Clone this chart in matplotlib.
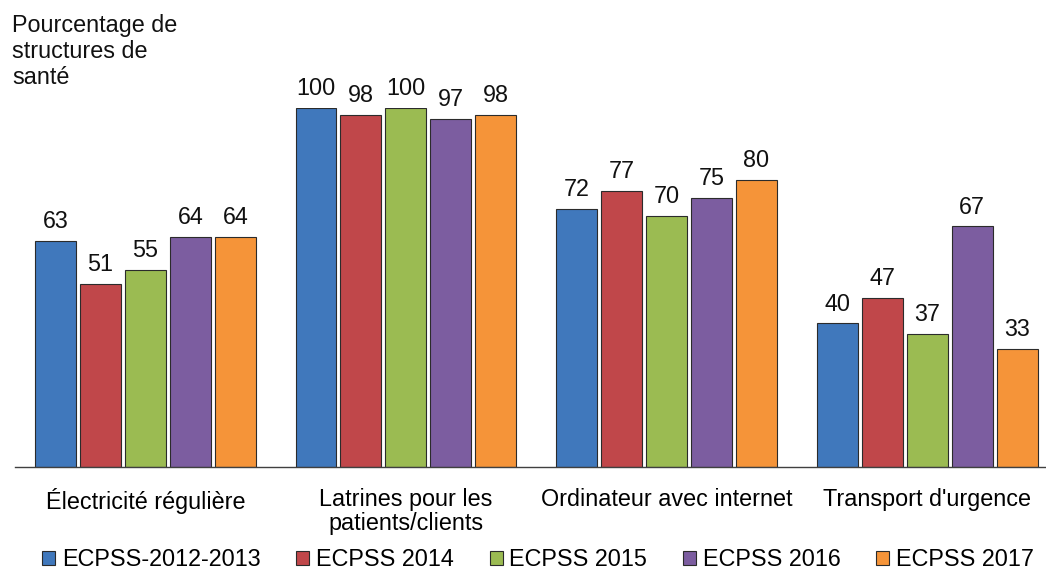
import numpy as np
import matplotlib
matplotlib.use("Agg")
import matplotlib.pyplot as plt

plt.rcParams['font.family'] = ['Liberation Sans', 'DejaVu Sans']

categories = ["Électricité régulière", "Latrines pour les\npatients/clients",
              "Ordinateur avec internet", "Transport d'urgence"]
series_names = ["ECPSS-2012-2013", "ECPSS 2014", "ECPSS 2015", "ECPSS 2016", "ECPSS 2017"]
ecpss_2012_2013 = [63, 100, 72, 40]
ecpss_2014 = [51, 98, 77, 47]
ecpss_2015 = [55, 100, 70, 37]
ecpss_2016 = [64, 97, 75, 67]
ecpss_2017 = [64, 98, 80, 33]
colors = ["#4078BC", "#C0474A", "#9BBB52", "#7C5DA0", "#F59439"]

all_series = [ecpss_2012_2013, ecpss_2014, ecpss_2015, ecpss_2016, ecpss_2017]

fig = plt.figure(figsize=(10.46, 5.72), dpi=100)
ax = fig.add_axes([15 / 1046, 1 - 467 / 572, 1031 / 1046, (467 - 108) / 572])

x = np.arange(len(categories))
step = 0.1726
width = 0.157
fs = 16.8

for i, (name, vals, col) in enumerate(zip(series_names, all_series, colors)):
    pos = x + (i - 2) * step
    bars = ax.bar(pos, vals, width, color=col, edgecolor="#2b2b2b", linewidth=0.8, label=name)
    for b, v in zip(bars, vals):
        ax.text(b.get_x() + b.get_width() / 2, v + 2.2, str(v), ha="center", va="bottom",
                fontsize=fs, color="#111111")

ax.set_xlim(-0.5, 3.456)
ax.set_ylim(0, 100)
ax.set_xticks(x)
ax.set_xticklabels(categories, fontsize=fs, linespacing=1.05, va="top")
ax.tick_params(axis="x", length=0, pad=15)
ax.set_yticks([])
for s in ["top", "right", "left"]:
    ax.spines[s].set_visible(False)
ax.spines["bottom"].set_color("#404040")
ax.spines["bottom"].set_linewidth(1.0)

fig.text(12 / 1046, 1 - 14 / 572, "Pourcentage de\nstructures de\nsanté", ha="left", va="top",
         fontsize=fs, linespacing=1.17, color="#111111")

leg = fig.legend(loc="center", bbox_to_anchor=(538 / 1046, 1 - 560 / 572), ncol=5, frameon=False,
                 fontsize=fs, handlelength=0.55, handleheight=0.55, handletextpad=0.28,
                 columnspacing=1.55, borderaxespad=0)
for h in leg.legend_handles:
    h.set_edgecolor("#2b2b2b")
    h.set_linewidth(0.8)

fig.savefig("out.png", dpi=100)
